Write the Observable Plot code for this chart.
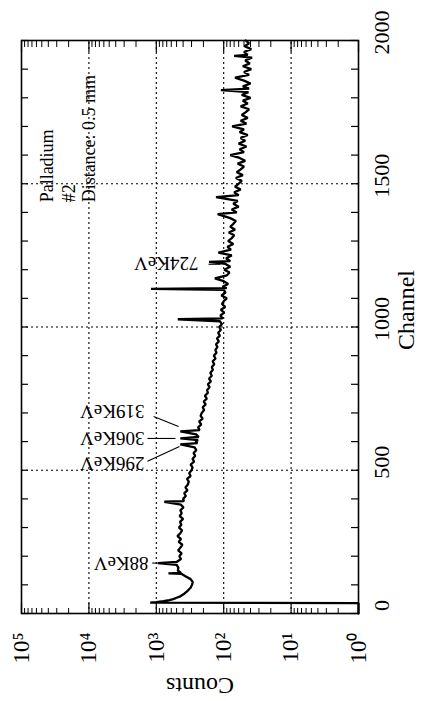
<!DOCTYPE html>
<html><head><meta charset="utf-8">
<script src="https://cdn.jsdelivr.net/npm/d3@7"></script>
<script src="https://cdn.jsdelivr.net/npm/@observablehq/plot@0.6"></script>
<style>
html,body{margin:0;padding:0;background:#fff;}
#wrap{position:relative;width:425px;height:701px;overflow:hidden;background:#fff;}
#chart{position:absolute;left:0;top:0;width:701px;height:425px;transform-origin:0 0;transform:translate(0,701px) rotate(-90deg);}
</style></head><body><div id="wrap"><div id="chart"></div></div>
<script>
// Spectrum: channel vs counts
const channel = [0,36,38,40,43,47,50,55,60,70,80,90,100,110,120,130,138,140,142,150,160,170,176,180,190,200,210,220,230,240,250,260,270,280,290,300,310,320,330,340,350,360,370,380,390,392,400,410,420,430,440,450,460,470,480,490,500,510,520,530,540,550,560,570,580,590,595,600,605,611,616,625,636,640,650,660,670,680,690,700,710,720,730,740,750,760,770,780,790,800,810,820,830,840,850,860,870,880,890,900,910,920,930,940,950,960,970,980,990,1000,1010,1020,1027,1030,1040,1050,1060,1070,1080,1090,1100,1110,1120,1130,1133,1136,1140,1150,1160,1170,1180,1190,1200,1210,1220,1227,1230,1240,1250,1260,1270,1280,1290,1300,1310,1320,1330,1340,1350,1360,1370,1380,1394,1400,1410,1420,1430,1440,1453,1460,1470,1480,1490,1500,1510,1520,1530,1540,1550,1560,1570,1580,1590,1600,1610,1620,1630,1640,1650,1660,1670,1680,1690,1700,1710,1720,1730,1740,1750,1760,1770,1780,1790,1800,1810,1820,1827,1832,1840,1850,1860,1870,1880,1890,1900,1910,1920,1930,1940,1946,1950,1960,1970,1980,1990,2000];
const counts = [1,1,1230,1000,780,640,560,500,440,380,340,310,295,288,310,370,420,660,430,480,470,500,950,
  500,430,455,420,475,440,410,465,430,485,440,415,460,425,445,400,450,420,440,395,430,
  760,390,
  400,365,385,345,370,340,330,350,310,325,300,290,310,275,290,265,280,255,270,
  440,245,262,240,440,235,255,440,228,240,
  215,232,205,220,212,195,205,185,198,178,190,172,176,162,172,155,165,150,158,145,150,138,146,132,140,128,133,124,130,118,126,114,121,110,117,106,114,
  480,104,
  112,98,110,95,106,100,90,108,94,100,
  1200,90,
  104,86,100,135,90,82,98,80,94,
  165,
  80,92,76,120,78,88,72,86,76,70,84,68,80,72,66,80,
  123,
  64,76,60,72,62,
  130,
  60,70,56,68,60,54,66,52,64,56,50,62,48,58,80,50,58,46,60,48,56,44,58,50,75,46,56,44,54,47,42,56,44,52,40,54,43,
  110,42,
  52,40,50,68,42,50,39,52,41,48,38,
  70,
  44,50,39,49,42,47];

// Axis tick labels
const channelTickLabels = [0,500,1000,1500,2000];
const countTickValues = [1,10,100,1000,10000,100000];
const countTickText = ["10⁰","10¹","10²","10³","10⁴","10⁵"];

// Peak annotations
const peakLabels = ["88KeV","296KeV","306KeV","319KeV","724KeV"];
const peakLabelChannel = [176,524,611,706,1222];
const peakLabelCounts = [1300,1500,1500,1500,237];
const leaderChannel1 = [176,531,611,688,1219];
const leaderCounts1 = [1150,1350,1350,1096,168];
const leaderChannel2 = [176,583,611,653,1219];
const leaderCounts2 = [955,453,519,468,112];

// Sample note
const noteLines = ["Palladium","#2","Distance: 0.5 mm"];
const noteChannel = [1435,1435,1435];
const noteCounts = [41000,19900,9800];

const W = 701, H = 425, mL = 87, mR = 41, mT = 21, mB = 67;
const fw = W - mL - mR, fh = H - mT - mB;

const spectrum = channel.map((c,i)=>({c, n: counts[i]}));
const peaks = peakLabels.map((t,i)=>({t, c: peakLabelChannel[i], n: peakLabelCounts[i]}));
const leaders = leaderChannel1.map((c,i)=>({c1:c, n1:leaderCounts1[i], c2:leaderChannel2[i], n2:leaderCounts2[i]}));
const notes = noteLines.map((t,i)=>({t, c: noteChannel[i], n: noteCounts[i]}));
const countTicks = countTickValues.map((v,i)=>({v, t: countTickText[i]}));

const chMinor = d3.range(0, 2001, 100);
const decades = countTickValues;
const logMinor = [];
for (let k = 0; k < 5; k++) for (let m = 2; m <= 9; m++) logMinor.push(m * 10 ** k);

const serif = "Liberation Serif, Times New Roman, serif";
const dotted = {stroke: "black", strokeWidth: 1.1, strokeDasharray: "2,3"};

const chart = Plot.plot({
  width: W, height: H,
  marginLeft: mL, marginRight: mR, marginTop: mT, marginBottom: mB,
  style: {fontFamily: serif, fontSize: "22px", background: "white", color: "black"},
  x: {domain: [0, 2000], axis: null},
  y: {type: "log", domain: [1, 100000], axis: null},
  marks: [
    Plot.ruleY(decades.slice(1, 5), dotted),
    Plot.ruleX([500, 1000, 1500], dotted),
    // inward ticks
    Plot.ruleX(chMinor, {insetTop: fh - 7, stroke: "black", strokeWidth: 1.2}),
    Plot.ruleX(chMinor, {insetBottom: fh - 7, stroke: "black", strokeWidth: 1.2}),
    Plot.ruleY(logMinor, {insetRight: fw - 6, stroke: "black", strokeWidth: 1}),
    Plot.ruleY(logMinor, {insetLeft: fw - 6, stroke: "black", strokeWidth: 1}),
    Plot.ruleY(decades, {insetRight: fw - 11, stroke: "black", strokeWidth: 1.2}),
    Plot.ruleY(decades, {insetLeft: fw - 11, stroke: "black", strokeWidth: 1.2}),
    Plot.frame({stroke: "black", strokeWidth: 1.6}),
    // spectrum
    Plot.line(spectrum, {x: "c", y: "n", stroke: "black", strokeWidth: 2.3, strokeLinejoin: "miter"}),
    // leaders
    Plot.link(leaders, {x1: "c1", y1: "n1", x2: "c2", y2: "n2", stroke: "black", strokeWidth: 1.1}),
    Plot.text(peaks, {x: "c", y: "n", text: "t", rotate: -90, textAnchor: "start", fontSize: 19, fontFamily: serif}),
    Plot.text(notes, {x: "c", y: "n", text: "t", textAnchor: "start", fontSize: 18, fontFamily: serif}),
    // tick labels
    Plot.text(channelTickLabels, {x: d => d, text: d => String(d), frameAnchor: "bottom", dy: 30, dx: 8, fontSize: 22, fontFamily: serif}),
    Plot.text(countTicks, {y: "v", text: "t", frameAnchor: "left", dx: -19, textAnchor: "end", fontSize: 23, fontFamily: serif}),
    // axis titles
    Plot.text(["Channel"], {frameAnchor: "bottom", dy: 55, dx: 17, fontSize: 24, fontFamily: serif}),
    Plot.text(["Counts"], {frameAnchor: "left", textAnchor: "middle", rotate: -90, dx: -72, dy: 10, fontSize: 24, fontFamily: serif})
  ]
});
document.getElementById("chart").appendChild(chart);
</script>
</body></html>
